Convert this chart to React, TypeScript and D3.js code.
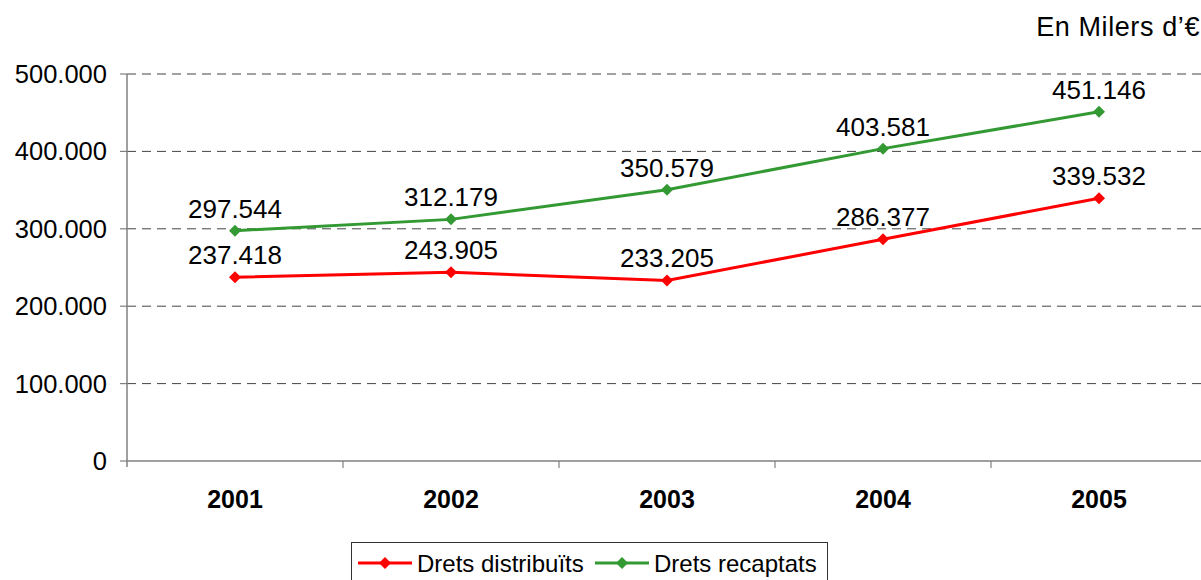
import React from "react";
import * as d3 from "d3";

const categories = ["2001", "2002", "2003", "2004", "2005"];
const distribuits = [237418, 243905, 233205, 286377, 339532];
const recaptats = [297544, 312179, 350579, 403581, 451146];
const yTicks = [0, 100000, 200000, 300000, 400000, 500000];
const seriesNames = ["Drets distribuïts", "Drets recaptats"];
const unitLabel = "En Milers d\u2019€";

const W = 1201;
const H = 580;
const FONT = "'Liberation Sans', Arial, Helvetica, sans-serif";

const fmt = (v: number) => {
  if (v === 0) return "0";
  const s = Math.round(v).toString();
  return s.replace(/\B(?=(\d{3})+(?!\d))/g, ".");
};

const diamond = (x: number, y: number, r: number) =>
  `M${x},${y - r}L${x + r},${y}L${x},${y + r}L${x - r},${y}Z`;

export default function App() {
  const left = 127;
  const right = 1207;
  const top = 74;
  const bottom = 461;
  const x = d3.scaleBand<string>().domain(categories).range([left, right]);
  const y = d3.scaleLinear().domain([0, 500000]).range([bottom, top]);
  const cx = (c: string) => (x(c) as number) + x.bandwidth() / 2;
  const line = d3
    .line<number>()
    .x((_, i) => cx(categories[i]))
    .y((d) => y(d));

  const series = [
    { name: seriesNames[0], values: distribuits, color: "#ff0000" },
    { name: seriesNames[1], values: recaptats, color: "#339933" },
  ];

  return (
    <svg
      width={W}
      height={H}
      style={{ position: "absolute", left: 0, top: 0 }}
      fontFamily={FONT}
    >
      <rect width={W} height={H} fill="#fff" />
      <text x={1200} y={36} textAnchor="end" fontSize={27} letterSpacing={0.6} fill="#000">
        {unitLabel}
      </text>
      {yTicks.map((t) => (
        <g key={t}>
          {t > 0 && (
            <line
              x1={left}
              x2={right}
              y1={y(t)}
              y2={y(t)}
              stroke="#444"
              strokeWidth={1}
              strokeDasharray="9,6"
            />
          )}
          <line x1={left - 7} x2={left} y1={y(t)} y2={y(t)} stroke="#808080" strokeWidth={1.2} />
          <text x={107} y={y(t) + 9} textAnchor="end" fontSize={25.5} fill="#000">
            {fmt(t)}
          </text>
        </g>
      ))}
      <line x1={left} x2={left} y1={top} y2={bottom + 6} stroke="#808080" strokeWidth={1.5} />
      <line x1={left} x2={right} y1={bottom} y2={bottom} stroke="#808080" strokeWidth={1.5} />
      {categories.map((c, i) => (
        <g key={c}>
          {i > 0 && (
            <line
              x1={x(c) as number}
              x2={x(c) as number}
              y1={bottom}
              y2={bottom + 7}
              stroke="#808080"
              strokeWidth={1.2}
            />
          )}
          <text
            x={cx(c)}
            y={508}
            textAnchor="middle"
            fontSize={25}
            fontWeight="bold"
            fill="#000"
          >
            {c}
          </text>
        </g>
      ))}
      {series.map((s) => (
        <g key={s.name}>
          <path d={line(s.values) || ""} fill="none" stroke={s.color} strokeWidth={3} />
          {s.values.map((v, i) => (
            <g key={i}>
              <path d={diamond(cx(categories[i]), y(v), 6)} fill={s.color} />
              <text
                x={cx(categories[i])}
                y={y(v) - 13}
                textAnchor="middle"
                fontSize={26}
                fill="#000"
              >
                {fmt(v)}
              </text>
            </g>
          ))}
        </g>
      ))}
      <rect x={351.5} y={542.5} width={476} height={45} fill="#fff" stroke="#333" strokeWidth={1} />
      {series.map((s, i) => {
        const lx = i === 0 ? 358 : 595;
        return (
          <g key={s.name}>
            <line x1={lx} x2={lx + 54} y1={563} y2={563} stroke={s.color} strokeWidth={3} />
            <path d={diamond(lx + 27, 563, 6)} fill={s.color} />
            <text x={lx + 59} y={572} fontSize={24} fill="#000">
              {s.name}
            </text>
          </g>
        );
      })}
    </svg>
  );
}
